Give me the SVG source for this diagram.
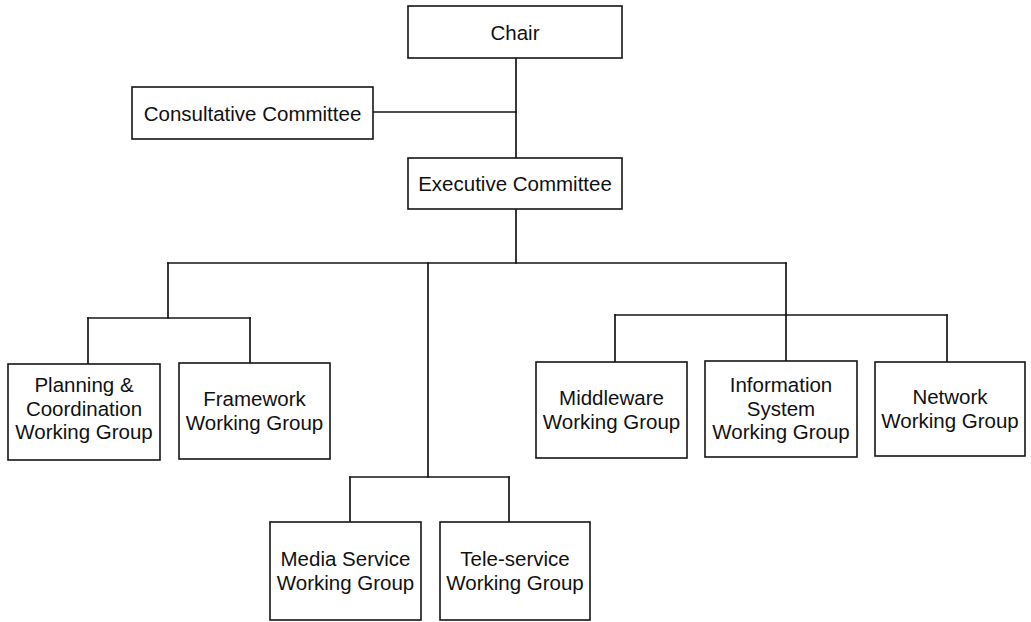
<svg xmlns="http://www.w3.org/2000/svg" width="1031" height="622" viewBox="0 0 1031 622">
  <style>
    .box { fill: #ffffff; stroke: #151515; stroke-width: 1.6; }
    .wire { fill: none; stroke: #151515; stroke-width: 1.7; stroke-linecap: square; }
    .label { font-family: "Liberation Sans", Arial, sans-serif; font-size: 20.5px; fill: #111111; text-anchor: middle; }
  </style>
  <rect width="1031" height="622" fill="#ffffff"/>

  <!-- connectors -->
  <g id="connectors">
    <!-- Chair to Executive Committee, with Consultative Committee tap -->
    <path class="wire" d="M516 58 V158"/>
    <path class="wire" d="M373 112 H516"/>
    <!-- Executive Committee to main bus -->
    <path class="wire" d="M516 209 V263"/>
    <path class="wire" d="M168 263 H786"/>
    <!-- left branch -->
    <path class="wire" d="M168 263 V318"/>
    <path class="wire" d="M88 318 H250"/>
    <path class="wire" d="M88 318 V364"/>
    <path class="wire" d="M250 318 V363"/>
    <!-- middle branch -->
    <path class="wire" d="M428 263 V477"/>
    <path class="wire" d="M350 477 H509"/>
    <path class="wire" d="M350 477 V522"/>
    <path class="wire" d="M509 477 V522"/>
    <!-- right branch -->
    <path class="wire" d="M786 263 V315"/>
    <path class="wire" d="M615 315 H947"/>
    <path class="wire" d="M615 315 V362"/>
    <path class="wire" d="M786 315 V361"/>
    <path class="wire" d="M947 315 V362"/>
  </g>

  <g id="chair">
    <rect class="box" x="408" y="6" width="214" height="52"/>
    <text class="label" x="515" y="40">Chair</text>
  </g>

  <g id="consultative-committee">
    <rect class="box" x="132" y="87" width="241" height="52"/>
    <text class="label" x="252.5" y="121">Consultative Committee</text>
  </g>

  <g id="executive-committee">
    <rect class="box" x="408" y="158" width="214" height="51"/>
    <text class="label" x="515" y="191">Executive Committee</text>
  </g>

  <g id="planning-coordination-wg">
    <rect class="box" x="8" y="364" width="152" height="96"/>
    <text class="label" x="84" y="392">Planning &amp;</text>
    <text class="label" x="84" y="415.5">Coordination</text>
    <text class="label" x="84" y="439">Working Group</text>
  </g>

  <g id="framework-wg">
    <rect class="box" x="179" y="363" width="151" height="96"/>
    <text class="label" x="254.5" y="406">Framework</text>
    <text class="label" x="254.5" y="429.5">Working Group</text>
  </g>

  <g id="media-service-wg">
    <rect class="box" x="270" y="522" width="151" height="98"/>
    <text class="label" x="345.5" y="566">Media Service</text>
    <text class="label" x="345.5" y="589.5">Working Group</text>
  </g>

  <g id="tele-service-wg">
    <rect class="box" x="440" y="522" width="150" height="98"/>
    <text class="label" x="515" y="566">Tele-service</text>
    <text class="label" x="515" y="589.5">Working Group</text>
  </g>

  <g id="middleware-wg">
    <rect class="box" x="536" y="362" width="151" height="96"/>
    <text class="label" x="611.5" y="405">Middleware</text>
    <text class="label" x="611.5" y="428.5">Working Group</text>
  </g>

  <g id="information-system-wg">
    <rect class="box" x="705" y="361" width="152" height="96"/>
    <text class="label" x="781" y="392">Information</text>
    <text class="label" x="781" y="415.5">System</text>
    <text class="label" x="781" y="439">Working Group</text>
  </g>

  <g id="network-wg">
    <rect class="box" x="875" y="362" width="150" height="94"/>
    <text class="label" x="950" y="404">Network</text>
    <text class="label" x="950" y="427.5">Working Group</text>
  </g>
</svg>
